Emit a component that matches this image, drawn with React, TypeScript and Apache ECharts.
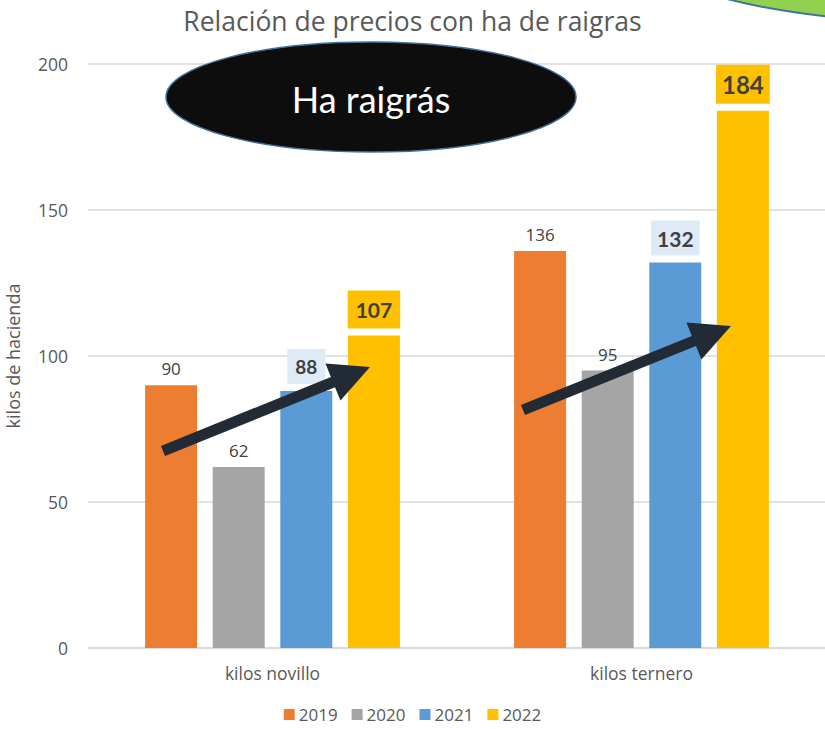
import React, { useEffect, useRef } from "react";
import * as echarts from "echarts";

const categories = ["kilos novillo", "kilos ternero"];
const years = ["2019", "2020", "2021", "2022"];
const values2019 = [90, 136];
const values2020 = [62, 95];
const values2021 = [88, 132];
const values2022 = [107, 184];
const colors = ["#ED7D31", "#A5A5A5", "#5B9BD5", "#FFC000"];
const yTicks = { min: 0, max: 200, interval: 50 };
const titleText = "Relación de precios con ha de raigras";
const yName = "kilos de hacienda";
const bubbleText = "Ha raigrás";

const FONT = "'Open Sans', sans-serif";
const BOLD_FONT = "Lato, 'Open Sans', sans-serif";

function arrowPoints(tail: number[], tip: number[], shaft: number, headW: number, headL: number) {
  const dx = tip[0] - tail[0];
  const dy = tip[1] - tail[1];
  const len = Math.sqrt(dx * dx + dy * dy);
  const ux = dx / len, uy = dy / len;
  const px = -uy, py = ux;
  const bx = tip[0] - ux * headL, by = tip[1] - uy * headL;
  const s = shaft / 2, h = headW / 2;
  return [
    [tail[0] + px * s, tail[1] + py * s],
    [bx + px * s, by + py * s],
    [bx + px * h, by + py * h],
    [tip[0], tip[1]],
    [bx - px * h, by - py * h],
    [bx - px * s, by - py * s],
    [tail[0] - px * s, tail[1] - py * s],
  ];
}

export default function App() {
  const ref = useRef<HTMLDivElement>(null);
  useEffect(() => {
    if (!ref.current) return;
    const chart = echarts.init(ref.current, null, { renderer: "svg" });
    const plainLabel = {
      show: true,
      position: "top",
      distance: 8,
      color: "#404040",
      fontSize: 17,
      fontFamily: FONT,
    };
    const boxLabel = (bg: string, fontSize: number, padH: number, padV: number) => ({
      show: true,
      position: "top",
      distance: 7,
      color: "#404040",
      fontSize,
      lineHeight: fontSize,
      fontWeight: "bold",
      fontFamily: BOLD_FONT,
      backgroundColor: bg,
      padding: [padV, padH, padV, padH],
    });
    const series = [
      {
        name: years[0],
        type: "bar",
        data: values2019,
        itemStyle: { color: colors[0] },
        label: plainLabel,
      },
      {
        name: years[1],
        type: "bar",
        data: values2020,
        itemStyle: { color: colors[1] },
        label: plainLabel,
      },
      {
        name: years[2],
        type: "bar",
        data: [
          { value: values2021[0], label: boxLabel("#DEEBF7", 19, 8, 8) },
          { value: values2021[1], label: boxLabel("#DEEBF7", 21, 6, 7) },
        ],
        itemStyle: { color: colors[2] },
      },
      {
        name: years[3],
        type: "bar",
        data: [
          { value: values2022[0], label: boxLabel("#FFC000", 21, 8, 8.5) },
          { value: values2022[1], label: boxLabel("#FFC000", 24, 6, 7.5) },
        ],
        itemStyle: { color: colors[3] },
      },
    ].map((s) => ({ ...s, barWidth: 52, barGap: "30%" }));

    chart.setOption({
      animation: false,
      backgroundColor: "#FFFFFF",
      title: {
        text: titleText,
        left: "center",
        top: 2,
        textStyle: { fontFamily: FONT, fontSize: 26.5, fontWeight: "normal", color: "#595959" },
      },
      legend: {
        data: years,
        bottom: 1,
        left: "center",
        itemWidth: 11,
        itemHeight: 11,
        itemGap: 14,
        icon: "rect",
        textStyle: { fontFamily: FONT, fontSize: 17, color: "#595959", padding: [0, 0, 0, -1] },
      },
      grid: { left: 88, right: -1, top: 64, bottom: 81, containLabel: false, outerBoundsMode: "none" },
      xAxis: {
        type: "category",
        data: categories,
        axisTick: { show: false },
        axisLine: { lineStyle: { color: "#D9D9D9", width: 1.5 } },
        axisLabel: { margin: 16, fontFamily: FONT, fontSize: 17.5, color: "#595959" },
      },
      yAxis: {
        type: "value",
        min: yTicks.min,
        max: yTicks.max,
        interval: yTicks.interval,
        name: yName,
        nameLocation: "middle",
        nameRotate: 90,
        nameGap: 66,
        nameTextStyle: { fontFamily: FONT, fontSize: 18, color: "#595959" },
        axisLine: { show: false },
        axisTick: { show: false },
        axisLabel: { margin: 20, fontFamily: FONT, fontSize: 17.5, color: "#595959" },
        splitLine: { lineStyle: { color: "#D9D9D9", width: 1.5 } },
      },
      series,
      graphic: [
        {
          type: "ellipse",
          shape: { cx: 950, cy: -62, rx: 320, ry: 85 },
          style: { fill: "#92D050", stroke: "#41719C", lineWidth: 2 },
          z: 100,
        },
        {
          type: "ellipse",
          shape: { cx: 371, cy: 97, rx: 205, ry: 55 },
          style: { fill: "#0D0D0D", stroke: "#41719C", lineWidth: 1.5 },
          z: 100,
        },
        {
          type: "text",
          x: 371,
          y: 99,
          style: {
            text: bubbleText,
            fill: "#FFFFFF",
            fontFamily: "Lato, sans-serif",
            fontSize: 36,
            align: "center",
            verticalAlign: "middle",
          },
          z: 101,
        },
        {
          type: "polygon",
          shape: { points: arrowPoints([163, 451], [370, 367], 11, 40, 40) },
          style: { fill: "#222A35" },
          z: 100,
        },
        {
          type: "polygon",
          shape: { points: arrowPoints([523, 410], [731, 326], 11, 40, 40) },
          style: { fill: "#222A35" },
          z: 100,
        },
      ],
    });
    return () => chart.dispose();
  }, []);
  return <div ref={ref} style={{ width: 825, height: 729, position: "absolute", left: 0, top: 0 }} />;
}
